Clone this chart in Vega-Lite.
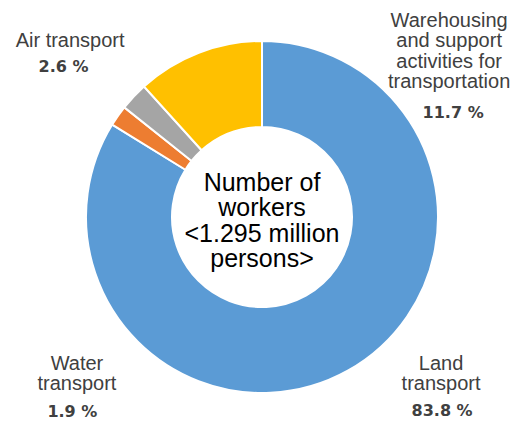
{
  "$schema": "https://vega.github.io/schema/vega-lite/v6.json",
  "width": 520,
  "height": 410,
  "autosize": {"type": "none"},
  "padding": {"top": 12, "left": 2, "right": 0, "bottom": 0},
  "background": "white",
  "config": {
    "view": {"stroke": null},
    "locale": {"number": {"decimal": ".", "thousands": ",", "grouping": [3], "currency": ["", " %"]}}
  },
  "data": {
    "values": [
      {"category": "Land transport", "label": "Land\ntransport", "share": 83.8, "rank": 1},
      {"category": "Water transport", "label": "Water\ntransport", "share": 1.9, "rank": 2},
      {"category": "Air transport", "label": "Air transport", "share": 2.6, "rank": 3},
      {"category": "Warehousing and support activities for transportation", "label": "Warehousing\nand support\nactivities for\ntransportation", "share": 11.7, "rank": 4}
    ]
  },
  "layer": [
    {
      "mark": {"type": "arc", "outerRadius": 176, "innerRadius": 90, "stroke": "white", "strokeWidth": 2},
      "encoding": {
        "theta": {"field": "share", "type": "quantitative", "stack": true},
        "order": {"field": "rank", "type": "quantitative"},
        "color": {
          "field": "category", "type": "nominal",
          "scale": {
            "domain": ["Land transport", "Water transport", "Air transport", "Warehousing and support activities for transportation"],
            "range": ["#5B9BD5", "#ED7D31", "#A5A5A5", "#FFC000"]
          },
          "legend": null
        }
      }
    },
    {
      "mark": {"type": "text", "radius": 255, "dx": -6, "dy": 4.5, "align": "center", "baseline": "alphabetic", "font": "Liberation Sans", "fontSize": 20, "lineBreak": "\n", "lineHeight": 20, "color": "#404040"},
      "encoding": {
        "theta": {"field": "share", "type": "quantitative", "stack": true},
        "order": {"field": "rank", "type": "quantitative"},
        "detail": {"field": "category", "type": "nominal"},
        "text": {"condition": {"test": "datum.category === 'Air transport'", "field": "label"}, "value": ""}
      }
    },
    {
      "mark": {"type": "text", "radius": 255, "dx": -12.6, "dy": 29.5, "align": "center", "baseline": "alphabetic", "font": "DejaVu Sans", "fontWeight": "bold", "fontSize": 16, "color": "#404040"},
      "encoding": {
        "theta": {"field": "share", "type": "quantitative", "stack": true},
        "order": {"field": "rank", "type": "quantitative"},
        "detail": {"field": "category", "type": "nominal"},
        "text": {"condition": {"test": "datum.category === 'Air transport'", "field": "share", "type": "quantitative", "format": "$.1f"}, "value": ""}
      }
    },
    {
      "mark": {"type": "text", "radius": 200, "dx": 259, "dy": -3.4, "align": "center", "baseline": "alphabetic", "font": "Liberation Sans", "fontSize": 20, "lineBreak": "\n", "lineHeight": 20.5, "color": "#404040"},
      "encoding": {
        "theta": {"field": "share", "type": "quantitative", "stack": true},
        "order": {"field": "rank", "type": "quantitative"},
        "detail": {"field": "category", "type": "nominal"},
        "text": {"condition": {"test": "datum.rank === 4", "field": "label"}, "value": ""}
      }
    },
    {
      "mark": {"type": "text", "radius": 200, "dx": 263, "dy": 87.6, "align": "center", "baseline": "alphabetic", "font": "DejaVu Sans", "fontWeight": "bold", "fontSize": 16, "color": "#404040"},
      "encoding": {
        "theta": {"field": "share", "type": "quantitative", "stack": true},
        "order": {"field": "rank", "type": "quantitative"},
        "detail": {"field": "category", "type": "nominal"},
        "text": {"condition": {"test": "datum.rank === 4", "field": "share", "type": "quantitative", "format": "$.1f"}, "value": ""}
      }
    },
    {
      "mark": {"type": "text", "radius": 230, "dx": 67, "dy": -47.8, "align": "center", "baseline": "alphabetic", "font": "Liberation Sans", "fontSize": 20, "lineBreak": "\n", "lineHeight": 20, "color": "#404040"},
      "encoding": {
        "theta": {"field": "share", "type": "quantitative", "stack": true},
        "order": {"field": "rank", "type": "quantitative"},
        "detail": {"field": "category", "type": "nominal"},
        "text": {"condition": {"test": "datum.category === 'Land transport'", "field": "label"}, "value": ""}
      }
    },
    {
      "mark": {"type": "text", "radius": 230, "dx": 68, "dy": -1.8, "align": "center", "baseline": "alphabetic", "font": "DejaVu Sans", "fontWeight": "bold", "fontSize": 16, "color": "#404040"},
      "encoding": {
        "theta": {"field": "share", "type": "quantitative", "stack": true},
        "order": {"field": "rank", "type": "quantitative"},
        "detail": {"field": "category", "type": "nominal"},
        "text": {"condition": {"test": "datum.category === 'Land transport'", "field": "share", "type": "quantitative", "format": "$.1f"}, "value": ""}
      }
    },
    {
      "mark": {"type": "text", "radius": 200, "dx": -21.4, "dy": 268, "align": "center", "baseline": "alphabetic", "font": "Liberation Sans", "fontSize": 20, "lineBreak": "\n", "lineHeight": 20, "color": "#404040"},
      "encoding": {
        "theta": {"field": "share", "type": "quantitative", "stack": true},
        "order": {"field": "rank", "type": "quantitative"},
        "detail": {"field": "category", "type": "nominal"},
        "text": {"condition": {"test": "datum.category === 'Water transport'", "field": "label"}, "value": ""}
      }
    },
    {
      "mark": {"type": "text", "radius": 200, "dx": -26, "dy": 315, "align": "center", "baseline": "alphabetic", "font": "DejaVu Sans", "fontWeight": "bold", "fontSize": 16, "color": "#404040"},
      "encoding": {
        "theta": {"field": "share", "type": "quantitative", "stack": true},
        "order": {"field": "rank", "type": "quantitative"},
        "detail": {"field": "category", "type": "nominal"},
        "text": {"condition": {"test": "datum.category === 'Water transport'", "field": "share", "type": "quantitative", "format": "$.1f"}, "value": ""}
      }
    },
    {
      "data": {"values": [{"title": "Number of\nworkers\n<1.295 million\npersons>"}]},
      "mark": {"type": "text", "align": "center", "baseline": "alphabetic", "dy": -26, "font": "Liberation Sans", "fontSize": 25, "lineBreak": "\n", "lineHeight": 25.3, "color": "#000000"},
      "encoding": {
        "text": {"field": "title", "type": "nominal"}
      }
    }
  ]
}
